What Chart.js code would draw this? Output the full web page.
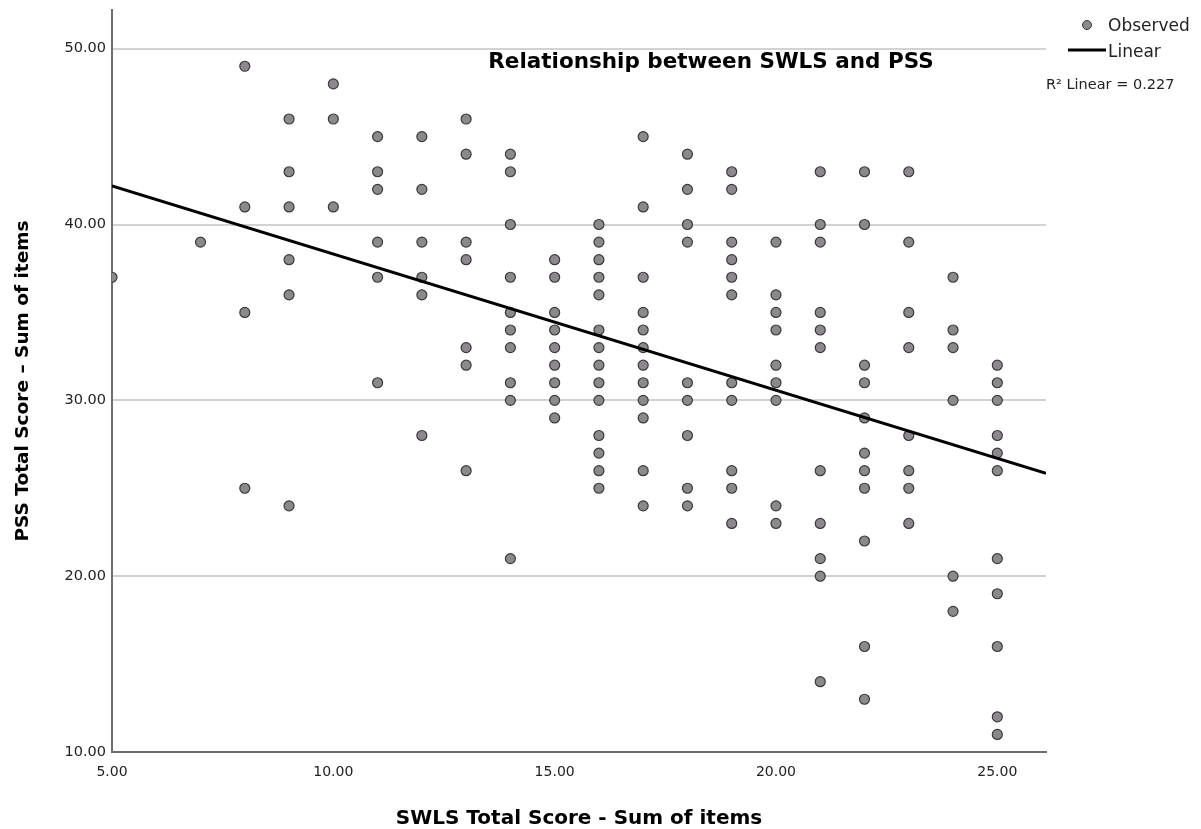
<!DOCTYPE html>
<html>
<head>
<meta charset="utf-8">
<title>Relationship between SWLS and PSS</title>
<script src="https://cdn.jsdelivr.net/npm/chart.js@4.4.1/dist/chart.umd.min.js"></script>
<style>
    html, body { margin: 0; padding: 0; background: #fff; }
    #chart { display: block; }
</style>
</head>
<body>
<canvas id="chart" width="1201" height="829"></canvas>
<script>
// SWLS total scores (x) and the PSS totals observed at each of them (y)
const swlsLevels = [5, 7, 8, 9, 10, 11, 12, 13, 14, 15, 16, 17, 18, 19, 20, 21, 22, 23, 24, 25];
const pssByLevel = [
    [37],
    [39],
    [49, 41, 35, 25],
    [46, 43, 41, 38, 36, 24],
    [48, 46, 41],
    [45, 43, 42, 39, 37, 31],
    [45, 42, 39, 37, 36, 28],
    [46, 44, 39, 38, 33, 32, 26],
    [44, 43, 40, 37, 35, 34, 33, 31, 30, 21],
    [38, 37, 35, 34, 33, 32, 31, 30, 29],
    [40, 39, 38, 37, 36, 34, 33, 32, 31, 30, 28, 27, 26, 25],
    [45, 41, 37, 35, 34, 33, 32, 31, 30, 29, 26, 24],
    [44, 42, 40, 39, 31, 30, 28, 25, 24],
    [43, 42, 39, 38, 37, 36, 31, 30, 26, 25, 23],
    [39, 36, 35, 34, 32, 31, 30, 24, 23],
    [43, 40, 39, 35, 34, 33, 26, 23, 21, 20, 14],
    [43, 40, 32, 31, 29, 27, 26, 25, 22, 16, 13],
    [43, 39, 35, 33, 28, 26, 25, 23],
    [37, 34, 33, 30, 20, 18],
    [32, 31, 30, 28, 27, 26, 21, 19, 16, 12, 11]
];

// fitted line at both ends
const fitX = [5, 26.1];
const fitY = [42.2, 25.85];

const xTicks = [5, 10, 15, 20, 25];
const yTicks = [10, 20, 30, 40, 50];

const observed = [];
swlsLevels.forEach((level, i) => {
    pssByLevel[i].forEach(v => observed.push({ x: level, y: v }));
});
const fitLine = fitX.map((x, i) => ({ x: x, y: fitY[i] }));

// title and the SPSS style legend in the top right corner
const labelsPlugin = {
    id: "labels",
    afterDraw(chart) {
        const ctx = chart.ctx;
        ctx.save();
        ctx.fillStyle = "#000";
        ctx.textBaseline = "middle";

        ctx.font = "bold 21.5px 'DejaVu Sans', sans-serif";
        ctx.textAlign = "center";
        ctx.fillText("Relationship between SWLS and PSS", 711, 62);

        // Observed
        ctx.beginPath();
        ctx.arc(1087, 25, 4.5, 0, Math.PI * 2);
        ctx.fillStyle = "#8c898c";
        ctx.fill();
        ctx.lineWidth = 1;
        ctx.strokeStyle = "#3a3a3a";
        ctx.stroke();

        ctx.fillStyle = "#222";
        ctx.textAlign = "left";
        ctx.font = "17px 'DejaVu Sans', sans-serif";
        ctx.fillText("Observed", 1108, 27);

        // Linear
        ctx.beginPath();
        ctx.moveTo(1068, 50);
        ctx.lineTo(1106, 50);
        ctx.lineWidth = 3;
        ctx.strokeStyle = "#000";
        ctx.stroke();
        ctx.fillText("Linear", 1108, 53);

        ctx.font = "14.5px 'DejaVu Sans', sans-serif";
        ctx.fillText("R\u00B2 Linear = 0.227", 1046, 85);
        ctx.restore();
    }
};

new Chart(document.getElementById("chart"), {
    type: "scatter",
    data: {
        datasets: [
            {
                type: "line",
                label: "Linear",
                data: fitLine,
                borderColor: "#000",
                borderWidth: 3,
                pointRadius: 0,
                fill: false,
                order: 0
            },
            {
                label: "Observed",
                data: observed,
                backgroundColor: "#8c898c",
                borderColor: "#3a3a3a",
                borderWidth: 1.2,
                pointRadius: 5,
                order: 1
            }
        ]
    },
    options: {
        responsive: false,
        animation: false,
        layout: {
            padding: { left: 0, top: 10, right: 155, bottom: 0 }
        },
        plugins: {
            legend: { display: false },
            tooltip: { enabled: false }
        },
        scales: {
            x: {
                type: "linear",
                min: 5,
                max: 26.1,
                afterBuildTicks: scale => { scale.ticks = xTicks.map(v => ({ value: v })); },
                afterFit: scale => {
                    scale.height = 77;
                    scale.paddingLeft = 0;
                    scale.paddingRight = 0;
                },
                ticks: {
                    callback: v => v.toFixed(2),
                    font: { family: "'DejaVu Sans', sans-serif", size: 14 },
                    color: "#222",
                    padding: 12,
                    maxRotation: 0,
                    autoSkip: false
                },
                grid: { display: false, drawTicks: false },
                border: { color: "#6e6e6e", width: 2 },
                title: {
                    display: true,
                    text: "SWLS Total Score - Sum of items",
                    font: { family: "'DejaVu Sans', sans-serif", size: 20, weight: "bold", lineHeight: 1.0 },
                    color: "#000",
                    padding: { top: 0, bottom: 0 }
                }
            },
            y: {
                type: "linear",
                min: 10,
                max: 52.2,
                afterBuildTicks: scale => { scale.ticks = yTicks.map(v => ({ value: v })); },
                afterFit: scale => {
                    scale.width = 112;
                    scale.paddingTop = 0;
                    scale.paddingBottom = 0;
                },
                ticks: {
                    callback: v => v.toFixed(2),
                    font: { family: "'DejaVu Sans', sans-serif", size: 14.5 },
                    color: "#222",
                    padding: 6
                },
                grid: { color: "#d2d2d2", lineWidth: 2, drawTicks: false },
                border: { color: "#6e6e6e", width: 2 },
                title: {
                    display: true,
                    text: "PSS Total Score \u2013 Sum of items",
                    font: { family: "'DejaVu Sans', sans-serif", size: 18.5, weight: "bold", lineHeight: 1.2 },
                    color: "#000",
                    padding: { top: 12, bottom: 0 }
                }
            }
        }
    },
    plugins: [labelsPlugin]
});
</script>
</body>
</html>
